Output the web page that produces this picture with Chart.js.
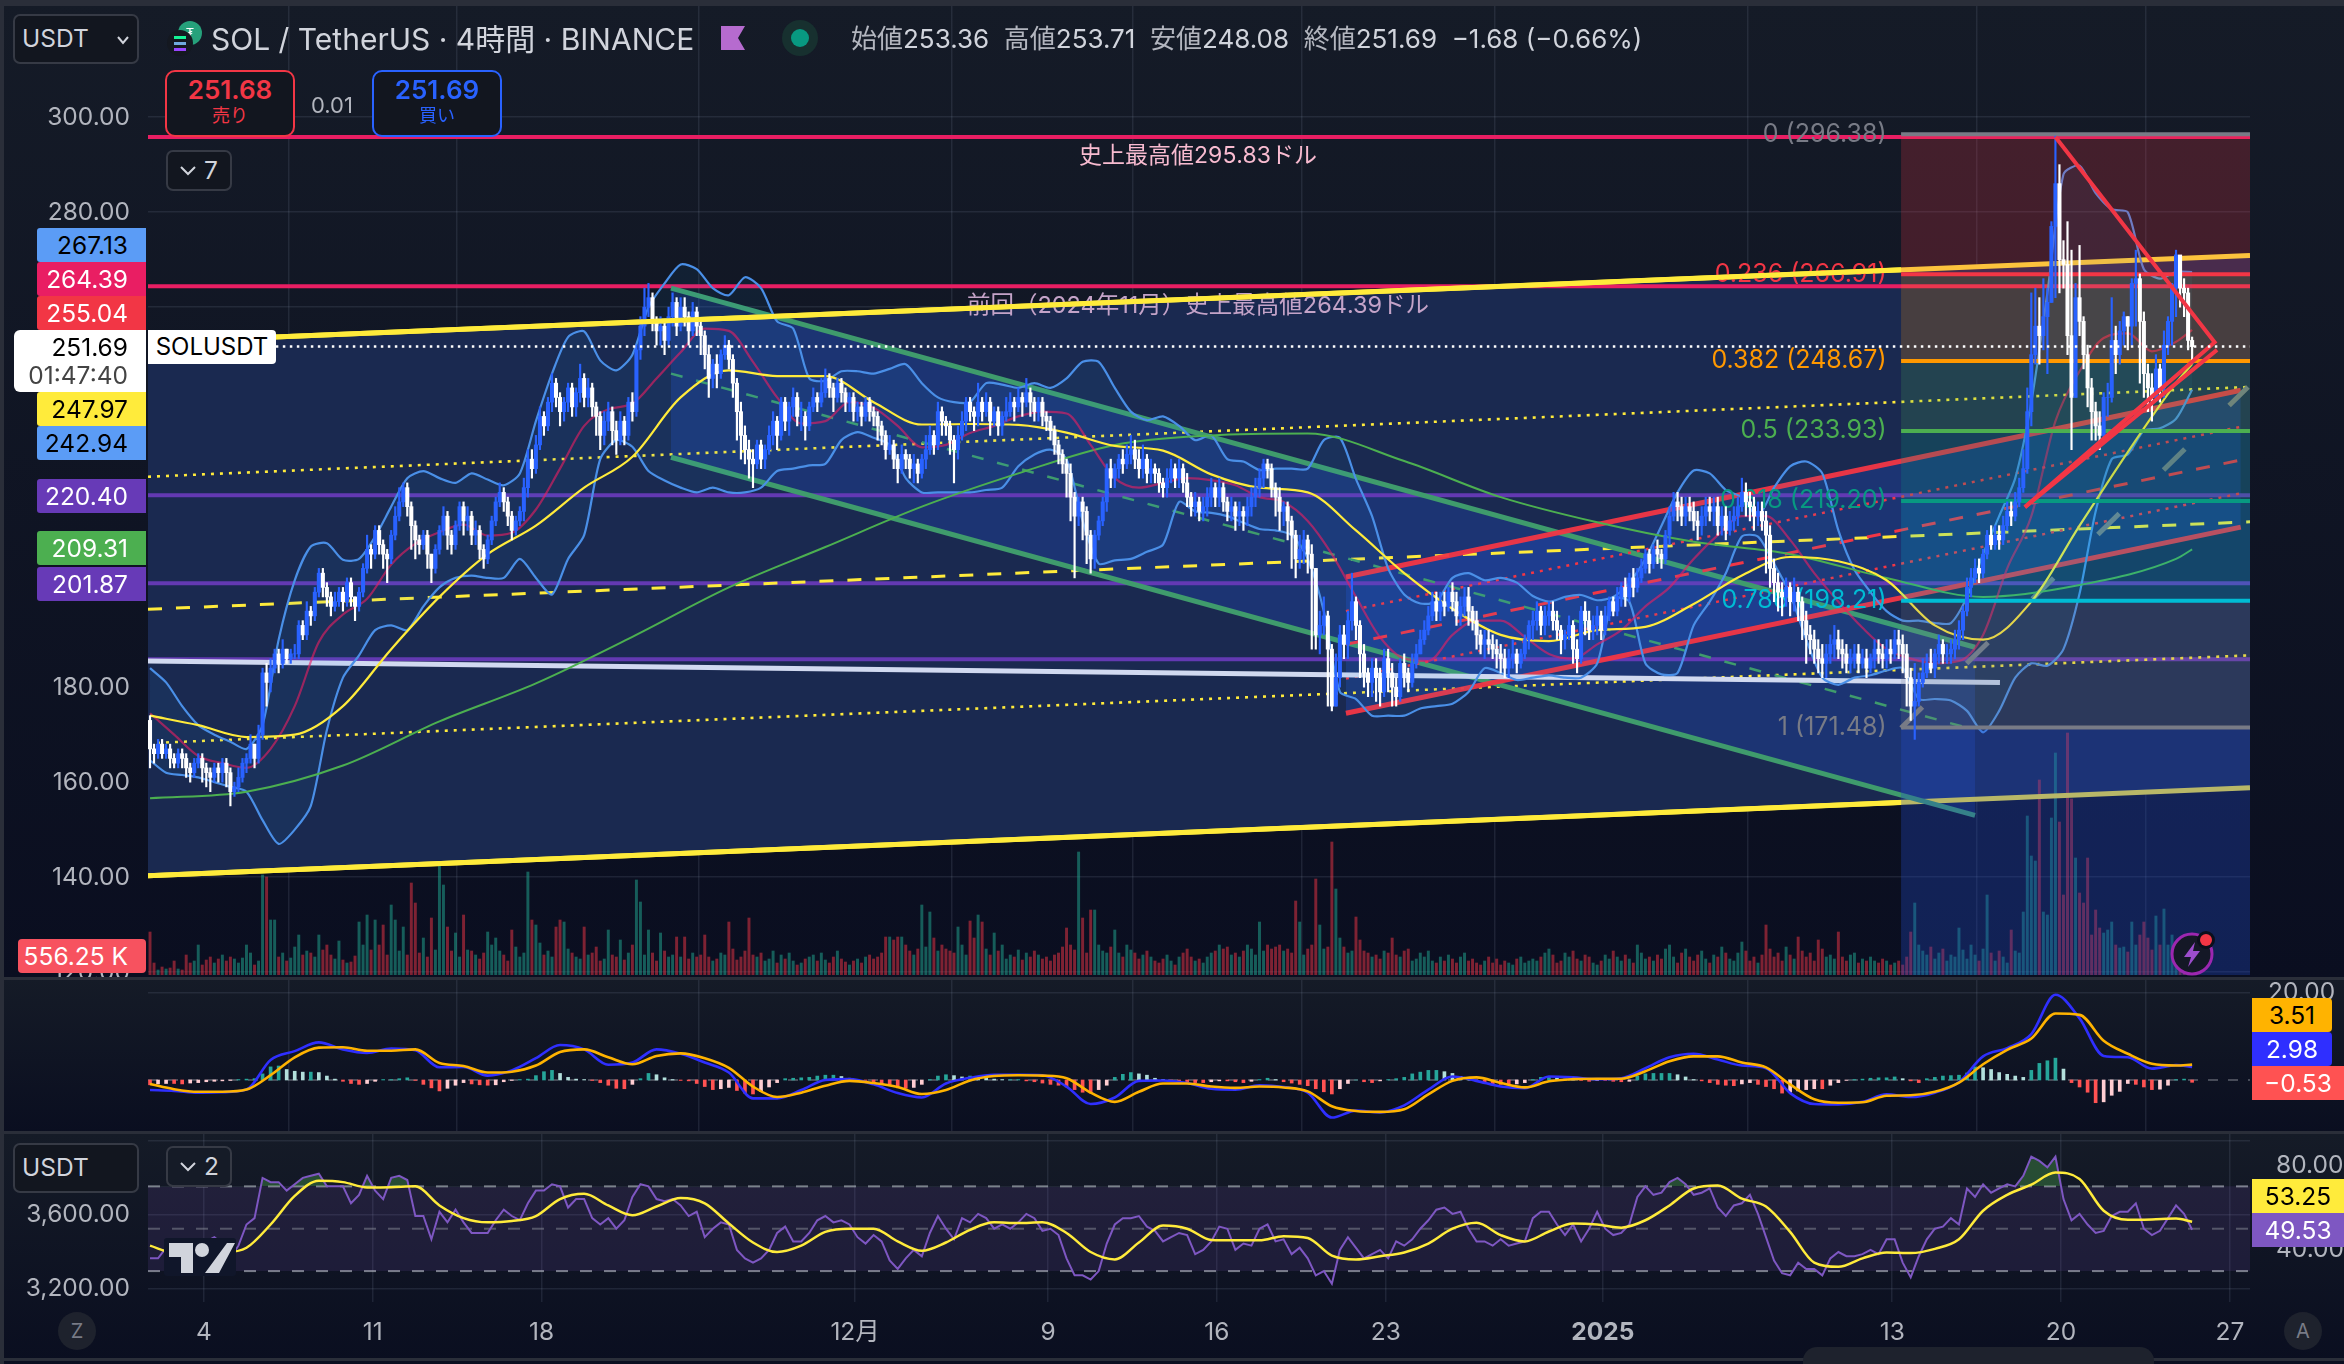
<!DOCTYPE html>
<html lang="ja">
<head>
<meta charset="utf-8">
<title>SOL / TetherUS</title>
<script src="https://cdn.jsdelivr.net/npm/chart.js@4"></script>
<style>
  html, body { margin: 0; background: #0b1020; }
  #page { position: relative; width: 2344px; height: 1364px; overflow: hidden; font-family: Inter, "Noto Sans CJK JP", sans-serif; color: #d1d4dc; }
  .pane { position: absolute; left: 0; width: 2344px; background: linear-gradient(#151b27, #0a0e20); }
  .bar { position: absolute; background: #2a2e39; }
  canvas { position: absolute; left: 0; }
  .ui { position: absolute; white-space: nowrap; }
  .tag { position: absolute; height: 34px; line-height: 34px; font-size: 24.5px; text-align: right; padding-right: 18px; box-sizing: border-box; border-radius: 3px 0 0 3px; }
  .rtag { position: absolute; left: 2252px; height: 34px; line-height: 34px; font-size: 24.5px; text-align: center; box-sizing: border-box; }
  .box { position: absolute; box-sizing: border-box; border: 2px solid #363a45; border-radius: 7px; background: #12161f; font-size: 24.5px; line-height: 44px; padding-left: 7px; }
  .round { position: absolute; width: 38px; height: 38px; line-height: 38px; border-radius: 50%; background: #1e222d; color: #787b86; text-align: center; font-size: 20px; }
  .deal { position: absolute; top: 70px; width: 130px; height: 67px; box-sizing: border-box; border: 2px solid; border-radius: 10px; background: #12161f; text-align: center; }
  .deal b { display: block; font-size: 26px; line-height: 30px; margin-top: 3px; font-weight: 600; }
  .deal span { display: block; font-size: 18px; line-height: 22px; }
  .lbl { color: #b2b5be; }
</style>
</head>
<body>
<div id="page">
  <div class="pane" style="top:0;height:978px"></div>
  <div class="pane" style="top:978px;height:155px"></div>
  <div class="pane" style="top:1133px;height:231px"></div>

  <canvas id="mainChart" width="2344" height="972" style="top:6px"></canvas>
  <canvas id="macdChart" width="2344" height="155" style="top:978px"></canvas>
  <canvas id="rsiChart" width="2344" height="231" style="top:1133px"></canvas>

  <div class="bar" style="left:0;top:0;width:2344px;height:6px"></div>
  <div class="bar" style="left:0;top:0;width:4px;height:1364px"></div>
  <div class="bar" style="left:0;top:977px;width:2344px;height:3px"></div>
  <div class="bar" style="left:0;top:1131px;width:2344px;height:3px"></div>
  <div class="bar" style="left:0;top:1358px;width:2344px;height:3px"></div>

  <div class="box" style="left:13px;top:14px;width:126px;height:50px">USDT
    <svg style="position:absolute;right:8px;top:19px" width="12" height="10"><polyline points="1,2 6,8 11,2" fill="none" stroke="#d1d4dc" stroke-width="2"/></svg>
  </div>
  <svg class="ui" style="left:166px;top:18px" width="40" height="40">
    <circle cx="24" cy="15" r="12" fill="#26a17b"/><text x="24" y="20" font-size="13" fill="#fff" text-anchor="middle">₮</text>
    <circle cx="14" cy="25" r="13" fill="#141820"/>
    <rect x="8" y="18" width="12" height="3" fill="#14f195"/><rect x="8" y="24" width="12" height="3" fill="#6fa8dc"/><rect x="8" y="30" width="12" height="3" fill="#9945ff"/>
  </svg>
  <div class="ui" style="left:211px;top:20px;font-size:30px;line-height:38px">SOL / TetherUS · 4時間 · BINANCE</div>
  <svg class="ui" style="left:721px;top:26px" width="24" height="24"><polygon points="0,0 24,0 17,12 24,24 0,24" fill="#b66bcf"/></svg>
  <svg class="ui" style="left:782px;top:20px" width="36" height="36"><circle cx="18" cy="18" r="18" fill="#17302f"/><circle cx="18" cy="18" r="9" fill="#089981"/></svg>
  <div class="ui" style="left:851px;top:22px;font-size:26px;line-height:34px"><span class="lbl">始値</span>253.36&nbsp; <span class="lbl">高値</span>253.71&nbsp; <span class="lbl">安値</span>248.08&nbsp; <span class="lbl">終値</span>251.69&nbsp; −1.68 (−0.66%)</div>

  <div class="deal" style="left:165px;border-color:#f23645;color:#f23645"><b>251.68</b><span>売り</span></div>
  <div class="ui" style="left:311px;top:92px;font-size:22px;line-height:26px;color:#b2b5be">0.01</div>
  <div class="deal" style="left:372px;border-color:#2962ff;color:#2962ff"><b>251.69</b><span>買い</span></div>

  <div class="box" style="left:166px;top:150px;width:66px;height:41px;line-height:37px;padding-left:36px">7
    <svg style="position:absolute;left:12px;top:13px" width="16" height="11"><polyline points="1,2 8,9 15,2" fill="none" stroke="#d1d4dc" stroke-width="2"/></svg>
  </div>

  <div class="tag" style="left:37px;top:228px;width:109px;background:#5b9cf6;color:#000">267.13</div>
  <div class="tag" style="left:37px;top:262px;width:109px;background:#e91e63;color:#fff">264.39</div>
  <div class="tag" style="left:37px;top:296px;width:109px;background:#f23645;color:#fff">255.04</div>
  <div class="tag" style="left:14px;top:330px;width:132px;height:62px;background:#fff;color:#000;line-height:28px;padding-top:3px;border-radius:6px 0 0 6px">251.69<br><span style="color:#444">01:47:40</span></div>
  <div class="tag" style="left:37px;top:392px;width:109px;background:#ffeb3b;color:#000">247.97</div>
  <div class="tag" style="left:37px;top:426px;width:109px;background:#5b9cf6;color:#000">242.94</div>
  <div class="tag" style="left:37px;top:479px;width:109px;background:#673ab7;color:#fff">220.40</div>
  <div class="tag" style="left:37px;top:531px;width:109px;background:#4caf50;color:#fff">209.31</div>
  <div class="tag" style="left:37px;top:567px;width:109px;background:#673ab7;color:#fff">201.87</div>
  <div class="tag" style="left:18px;top:939px;width:128px;background:#f7525f;color:#fff;border-radius:4px">556.25 K</div>
  <div class="ui" style="left:148px;top:330px;width:128px;height:34px;line-height:34px;background:#fff;color:#000;font-size:24px;text-align:center;border-radius:0 4px 4px 0">SOLUSDT</div>

  <svg class="ui" style="left:2170px;top:930px" width="48" height="48">
    <circle cx="22" cy="24" r="20" fill="#141826" stroke="#9c27b0" stroke-width="3"/>
    <polygon points="25,12 14,27 21,27 18,37 30,21 23,21" fill="#9c4dcc"/>
    <circle cx="36" cy="10" r="9" fill="#0b0f1c"/><circle cx="36" cy="10" r="6" fill="#f23645"/>
  </svg>

  <div class="rtag" style="top:998px;width:80px;background:#ffb300;color:#000;border-radius:0 4px 4px 0">3.51</div>
  <div class="rtag" style="top:1032px;width:80px;background:#2f2fff;color:#fff;border-radius:0 4px 4px 0">2.98</div>
  <div class="rtag" style="top:1066px;width:92px;background:#ff5252;color:#fff">−0.53</div>
  <div class="rtag" style="top:1179px;width:92px;background:#ffeb3b;color:#000">53.25</div>
  <div class="rtag" style="top:1213px;width:92px;background:#7e57c2;color:#fff">49.53</div>

  <div class="box" style="left:13px;top:1143px;width:126px;height:50px">USDT</div>
  <div class="box" style="left:166px;top:1146px;width:66px;height:41px;line-height:37px;padding-left:36px;background:#151b27">2
    <svg style="position:absolute;left:12px;top:13px" width="16" height="11"><polyline points="1,2 8,9 15,2" fill="none" stroke="#d1d4dc" stroke-width="2"/></svg>
  </div>
  <svg class="ui" style="left:164px;top:1238px" width="72" height="38">
    <rect width="72" height="38" rx="3" fill="#10162a"/>
    <path d="M5 5H29V35H17V19H5Z M63 5H71L55 35H41Z" fill="#d1d4dc"/><circle cx="38" cy="12" r="7" fill="#d1d4dc"/>
  </svg>
  <div class="round" style="left:58px;top:1312px">Z</div>
  <div class="round" style="left:2284px;top:1312px">A</div>
  <div class="ui" style="left:1803px;top:1347px;width:351px;height:17px;background:#1e222d;border-radius:14px 14px 0 0"></div>
</div>

<script>
// price pane: one candle every 4 hours, open is the previous close
const firstOpen = 173;
const closes = [
  167,166,168,166,167,165,164,166,165,163,162,164,165,163,162,161,163,162,164,162,
  158,159,161,164,165,168,165,170,183,181,184,187,185,188,186,187,187,193,191,196,
  195,200,204,201,199,197,198,200,198,202,199,197,200,205,209,208,213,210,208,207,
  212,216,219,222,218,214,211,210,212,208,205,209,213,216,212,210,214,218,215,216,
  212,213,209,207,211,215,219,221,219,216,213,215,217,222,228,226,231,237,235,240,
  244,241,238,240,243,239,242,245,241,243,239,237,233,236,238,234,232,236,233,240,
  238,251,256,260,262,257,255,256,253,258,261,256,260,258,255,259,256,254,250,245,
  248,246,250,252,249,244,238,233,230,228,227,231,228,230,233,236,233,240,236,239,
  241,237,237,235,239,241,240,242,245,243,241,244,242,240,241,238,239,237,240,238,
  237,235,233,230,231,228,226,229,228,226,227,225,228,230,233,231,238,236,235,232,
  230,233,236,240,238,237,240,238,240,236,238,235,237,238,240,239,241,240,242,240,
  238,240,237,236,234,231,229,227,225,220,216,219,217,212,207,212,215,219,226,224,
  226,228,227,229,230,228,226,228,225,226,225,223,222,224,226,224,226,223,220,218,
  219,217,218,220,222,220,222,219,217,218,216,217,216,218,220,222,224,227,226,222,
  220,217,218,215,212,207,209,211,208,205,191,193,195,188,176,182,191,189,194,198,
  193,187,183,181,184,182,179,186,183,180,178,185,183,181,185,187,190,192,195,198,
  196,198,197,200,198,195,197,199,196,194,191,189,190,189,188,187,186,184,186,187,
  185,187,190,193,194,196,193,195,196,194,192,190,191,193,188,186,196,194,192,193,
  195,192,195,198,196,199,201,199,203,201,203,205,208,206,209,208,207,212,216,219,
  218,216,218,217,215,214,216,218,217,218,214,216,213,215,216,218,221,219,218,216,
  217,215,212,205,202,200,199,201,198,200,198,194,191,190,188,186,185,187,189,190,
  188,187,185,186,187,185,186,184,186,188,187,186,188,187,190,189,187,182,176,177,
  181,183,185,184,187,189,187,187,188,190,192,196,201,203,205,204,208,212,210,212,
  211,214,217,216,219,222,226,238,250,256,254,258,261,277,286,270,269,254,241,262,
  257,250,243,238,235,233,241,241,253,250,255,258,256,265,266,257,246,243,241,247,
  243,252,257,264,271,264,263,253,251.69
];
const highs = [
  174,168,169,169,168,168,166,167,167,166,164,165,166,166,164,163,164,164,165,165,
  163,160,163,165,166,170,168,172,184,185,186,188,188,190,188,188,189,194,194,198,
  197,201,205,205,202,200,200,201,201,203,203,199,201,206,212,210,214,214,211,209,
  213,218,222,223,223,219,215,212,213,213,208,210,214,218,217,213,215,219,219,218,
  217,215,214,210,212,216,220,223,222,220,217,216,218,224,230,230,233,239,238,241,
  246,245,242,241,244,244,243,248,246,245,244,240,238,238,240,239,236,238,237,241,
  242,252,258,264,265,263,258,258,257,260,263,262,262,262,259,261,260,257,255,252,
  249,250,251,254,253,250,245,240,235,232,230,232,232,231,235,238,237,241,241,240,
  243,242,240,238,240,243,242,245,247,246,244,245,245,243,242,242,240,240,241,241,
  239,238,236,234,233,232,229,231,230,229,229,228,229,233,235,234,240,239,237,236,
  233,235,238,241,241,239,244,241,242,241,239,239,238,241,242,241,243,242,245,243,
  241,241,241,238,237,235,232,230,228,227,221,220,220,218,213,213,216,220,227,228,
  227,229,230,231,233,232,230,231,229,228,227,226,224,226,228,227,228,227,225,221,
  221,220,220,222,224,223,224,223,220,220,219,219,218,220,222,224,226,228,228,227,
  223,222,219,219,216,213,212,213,212,210,205,196,199,196,189,187,193,193,196,204,
  199,194,189,184,186,186,184,188,188,185,182,186,187,184,187,189,192,194,197,200,
  200,200,200,201,202,200,199,201,201,197,196,192,192,192,191,190,189,188,188,190,
  188,188,191,194,196,198,197,197,198,198,196,193,192,195,194,190,197,198,196,195,
  197,196,197,199,199,201,202,203,204,205,205,207,209,209,210,211,209,213,218,221,
  221,220,220,220,219,217,218,220,220,220,220,218,218,217,218,220,224,223,221,220,
  219,219,217,214,207,204,202,203,202,203,201,199,196,193,192,190,189,189,191,193,
  192,190,189,188,189,189,188,188,187,190,190,189,190,190,192,192,191,189,184,185,
  183,186,187,188,188,191,190,189,190,192,194,197,203,205,207,207,209,213,214,214,
  214,216,219,219,221,224,230,243,263,264,262,266,264,278,296,290,274,278,272,265,
  273,258,252,245,240,238,242,244,262,256,257,259,258,266,272,267,259,248,246,250,
  248,255,258,265,272,270,266,264,253.71
];
const lows = [
  163,164,165,165,165,163,163,163,163,161,160,161,163,160,159,158,160,160,160,159,
  155,157,158,160,162,164,163,164,169,176,179,183,183,184,185,185,186,186,190,190,
  193,194,199,199,197,195,196,197,196,197,197,194,196,199,204,205,207,208,205,202,
  206,211,215,218,216,209,207,208,209,205,202,204,208,212,209,208,209,213,212,213,
  210,210,207,205,206,210,214,218,217,214,211,212,214,215,220,224,225,230,233,234,
  238,239,235,236,238,237,237,240,239,239,237,233,230,231,234,231,229,231,231,232,
  236,237,249,254,258,255,252,252,250,252,256,254,255,256,252,254,254,250,247,241,
  243,243,245,249,247,241,232,228,227,224,222,226,226,226,229,231,230,232,234,233,
  237,235,234,232,234,238,238,239,241,241,238,240,240,238,238,236,236,235,236,236,
  235,232,231,228,229,226,223,225,226,224,223,223,224,226,229,229,230,233,233,229,
  223,228,232,234,236,234,235,236,237,233,235,233,233,236,237,236,238,237,239,237,
  236,236,235,234,232,229,227,225,220,215,203,214,211,206,204,205,211,214,217,222,
  222,224,225,226,227,226,224,224,223,223,223,221,220,220,223,222,222,221,218,216,
  216,215,215,216,218,218,218,217,215,215,213,214,213,214,216,218,220,222,224,220,
  216,213,214,211,205,203,205,206,204,188,188,187,191,176,175,176,180,186,186,192,
  190,182,180,178,178,177,176,178,179,176,176,177,180,179,180,184,187,189,191,194,
  194,194,195,196,196,193,193,195,193,192,188,187,186,187,186,184,183,182,182,184,
  183,184,186,188,190,192,191,191,193,192,190,187,188,190,185,183,185,191,190,190,
  191,190,191,194,195,195,197,197,198,199,200,202,204,204,205,206,205,206,210,215,
  215,214,214,215,213,211,212,214,215,214,212,212,211,212,213,214,217,216,215,213,
  214,213,204,201,198,196,195,197,195,196,194,190,185,187,185,183,182,182,185,186,
  186,184,183,183,184,183,184,182,183,184,185,184,184,185,186,186,183,176,173,169,
  176,180,182,183,182,185,185,185,185,186,188,190,195,199,202,202,203,207,209,209,
  209,210,213,214,215,218,221,225,235,248,248,251,246,261,262,263,264,250,230,241,
  254,247,239,232,232,230,232,237,240,246,248,252,251,252,256,244,241,238,236,241,
  240,241,250,252,258,260,258,251,248.08
];
// volume per candle, in units of 50K
const volumes = [
  43,12,5,8,6,7,14,6,5,20,12,14,30,10,15,18,12,16,20,14,
  18,16,12,17,30,22,10,14,100,98,55,55,18,22,14,17,28,40,20,24,
  22,18,40,25,30,20,16,34,15,12,13,19,53,30,60,25,55,30,50,20,
  70,55,24,48,20,92,72,22,37,18,57,25,110,90,48,24,42,18,60,25,
  24,20,16,22,43,30,37,24,20,14,45,28,18,22,103,55,50,32,20,24,
  18,48,55,53,26,22,18,16,48,20,22,28,14,16,45,20,18,35,15,22,
  30,95,73,20,45,22,14,42,24,18,20,38,18,38,16,22,18,20,40,18,
  14,16,22,20,53,26,15,18,24,57,20,18,22,14,16,24,12,20,16,22,
  14,10,12,16,18,20,14,22,15,12,18,24,16,13,10,14,16,12,18,20,
  16,18,22,38,38,35,38,38,30,24,20,26,70,28,63,37,24,30,26,24,
  22,48,30,20,54,37,60,53,26,20,42,24,30,16,20,18,25,15,22,18,
  24,20,16,18,14,20,22,28,47,30,25,123,57,22,65,65,30,24,22,28,
  45,22,18,30,25,22,16,20,24,18,14,12,16,20,14,10,18,22,26,18,
  14,16,12,18,22,24,30,26,28,20,22,18,24,30,26,20,53,24,30,26,
  28,30,24,26,22,74,53,20,26,30,96,50,26,28,133,86,37,28,22,24,
  58,35,24,22,18,20,16,24,22,37,20,18,24,26,14,16,22,18,24,14,
  12,18,14,20,16,12,18,22,14,16,12,10,14,18,12,16,10,14,12,10,
  16,18,12,14,16,14,18,22,26,20,12,14,22,18,24,16,14,20,18,12,
  10,14,20,16,24,18,14,20,16,12,30,22,16,18,14,20,16,26,30,18,
  12,22,26,18,14,20,24,16,12,20,18,28,22,16,14,22,33,24,14,18,
  12,20,50,26,18,22,14,28,20,16,38,24,18,22,14,35,26,18,20,16,
  43,18,14,20,22,12,16,14,18,14,12,16,14,10,12,14,10,18,43,72,
  30,24,20,28,16,22,26,14,20,18,47,25,16,30,20,14,26,80,22,14,
  24,18,12,45,24,22,63,159,119,114,195,63,60,157,222,153,80,242,176,117,
  82,72,117,40,65,47,42,45,53,30,27,28,23,53,30,40,53,37,25,59,
  30,66,30,40,30,20,12,8,11
];

// indicators, read every few candles (step is the spacing in candles)
const bbStep = 4;
const bbUpper = [
  184,181,176,172,170,168.5,167,172,190,202.5,209.6,210.3,206.8,207,211.7,218,224,225.5,224,223,225,223.7,222.5,225,236,246,253.7,254.9,248.8,246.7,250,260,265,269,268,264,262.5,266.3,264,257,255.5,
  245,244.5,246.5,246.5,246,247,248,244,241,240,240,244,243.7,243,244,243,245,248.5,248.5,243,238,236.2,237,235,232,233,228,227.5,225.7,226,226,226,232,232.5,223.8,216,205,199.5,197.6,198,203,204,202.5,203,202,199.2,198,199,199.4,198.3,
  199,202,207,214,221,225.6,225,221.5,220,216,222,226.5,227.5,225,213,204.7,200,196,194,194,193.5,193.5,199,208,216,224,240,263,288,289.8,284,280.6,280,268,266,267.4,267.4
];
const bbLower = [
  164.6,162,161.5,161,160,159,158,152,147,150,155,171,182,186.7,192,193,192,197,201,203,203.5,203,203,207,203,199.5,207,212,228,232,230.6,225.5,223.5,
  222,221,222,221,221,222,225.5,226,
  226.7,227,232,233.7,232.5,231,224,221,221,221,221,221.5,222,226.5,229,230,228,215,206,206.7,207,208.5,210,219,217,216.7,216,214.6,213.3,213,212,207,196,179,177.5,174,174,174,175.5,176,176.5,179,184,183,181.5,182,182.5,182,182,185,
  198.6,198,185,182.7,183,193,198,204,211.7,211.7,206,199.6,190,182,180.5,182,182.5,183.5,184,177.5,177.5,177.2,175,170.5,175,182,185,184.5,188,199.7,217,228,229,234,234.5,236.5,242.6
];
const ma20Step = 6;
const ma20 = [
  174.5,170,165.5,164,163,167,176,189.5,195.3,198.6,205.8,210.2,212.6,214.2,211.9,212.5,217.4,226,235,238.5,239.7,245,250.5,255.5,255,248.5,241,
  235.5,236,240,238.8,235,230.5,231,233.5,235,237,238,237.6,231,224,222,223,224,223.6,222.5,220,219,215,208,199,190.5,186,185.5,191,194,194,190.6,187,186,189,
  192,197,201,207,212,216,216,211,204,198,192.5,188,186,185,185.5,191,205,216,236,246.5,253.5,254.5,250.7,252.7,255.2
];
const ma50Step = 12;
const ma50 = [174,172,169.5,170,176,188,199,208,214,222,228.5,241,246.7,245.5,245.5,240,235.3,235.4,235.2,233.6,230.8,229.8,224.8,222,221,213,204,196.5,191,189.7,192,192.7,197.5,203.5,207.4,206.5,202.5,193,190,198,214,229.5,244,248];
const ma200Step = 24;
const ma200 = [156.6,158,163.5,172.8,180.8,190.6,201,209.5,218,225,231,233,233.4,227.6,220,214.7,210.6,208,203,199,201.5,207,209];

const macdStep = 6;
const macdLine = [
  -2.3,-2.5,-2.9,-2.8,-2.2,4.6,6.6,8.6,7,6.2,7.2,6.8,2.9,3,1,2.2,5,8,7,3.5,4,7,6,4,1.7,-4.2,-4.2,
  -2.3,0,.2,-1,-3,-4,-.8,.5,1.2,1.2,1.1,-1.5,-5.5,-4,-.2,-.1,-.7,-2,-2.2,-1.2,-1.6,-2.9,-8.6,-7,-7.4,-5.8,-2.2,.8,-.2,-1.5,-1.9,.8,.6,.2,
  .4,2.7,5.2,6,4.7,3.3,2.7,-3,-5.5,-5.6,-5,-3.3,-3.9,-2.9,-.5,5.4,7.3,10.5,19.5,14.1,5.5,5.2,2.6,3.4,2.98
];
const macdSignal = [
  -.9,-2.1,-2.7,-2.7,-2.2,1.1,5.2,7.4,7.5,6.7,6.7,7,3.9,3.2,1.7,1.9,3.3,6.4,7,5.2,3.6,5.5,6.1,5,2.8,-1.5,-3.9,
  -2.9,-1.3,-.2,-.7,-1.6,-3.2,-2.3,-.1,.9,1.1,1,.4,-2.9,-5,-2.7,-.8,-.8,-1.5,-1.8,-1.5,-1.7,-2.6,-6,-7.1,-7.3,-6.7,-3.3,-.2,.6,-.7,-1.7,-.3,.2,.3,
  .3,2,4.3,5.4,5.4,4,2.9,-1,-4.4,-5.2,-5.1,-3.6,-3.5,-2.7,-.6,3.6,6.9,9.5,15.2,14.9,9,6,3.7,3.3,3.51
];
const histStep = 2;
const macdHist = [
  -1.1,-.9,-.8,-.8,-.9,-.7,-.6,-.4,-.3,-.2,-.1,.1,.2,.3,1.4,3,3.2,2.4,2,1.8,
  1.8,1.7,.9,.2,-.3,-.8,-1,-.8,-.3,.1,.1,.3,.5,-.1,-1,-1.8,-2.5,-1.9,-1.2,-.6,
  -.9,-1.1,-1.2,-1.1,-.4,-.1,.1,.2,1,1.9,2.2,1.5,.6,.2,.1,-.1,-.6,-1.2,-1.9,-2,
  -1,.3,1.5,1.2,.5,.1,-.1,-.2,-.8,-1.5,-2.2,-2,-1.7,-2.4,-3,-3.2,-2.6,-1.6,-.6,.3,
  .4,.5,.6,.9,1.1,1.1,.8,.4,.1,-.1,-.4,-.8,-1.2,-1.8,-1.9,-1.7,-1,.1,.9,1.2,
  1,.7,.9,.6,.4,.2,.1,.1,.1,-.2,-.4,-.7,-1,-1.2,-1.6,-2.2,-2.8,-3,-2.2,-1.2,
  .6,1.3,1.7,1.4,1.1,.4,.1,-.1,-.2,-.4,-.6,-.6,-.4,-.2,-.2,-.4,-.6,-.3,.1,.4,
  .1,-.4,-.7,-1,-1.3,-2,-2.7,-3.2,-2,-.8,0,-.4,-.6,-.2,.1,.3,.6,1.4,1.8,2.2,
  2.2,1.9,1.5,.8,.4,-.4,-.8,-.9,-1,-1,-.9,-.6,.1,.6,.8,.5,.2,.1,-.1,-.3,
  -.1,-.1,-.3,-.4,-.3,.9,1.4,1.5,1.5,1.5,1.2,.7,.1,-.2,-.6,-1,-1.2,-1.3,-.9,-.6,
  -1,-1.5,-2,-3,-2.8,-2.5,-2.2,-2,-2,-1.2,-.6,-.1,.1,.2,.4,.5,.5,.7,.3,-.2,
  -.6,.3,.6,.9,1,1.1,1.6,3,2.8,2.4,1.7,1.3,.9,.6,2.2,3.8,4.4,5,2.5,-.6,
  -1.6,-2.8,-5.2,-5,-3.5,-2.6,-.8,-1,-1.6,-2.2,-2.1,-1.2,.1,.2,-.53
];

const rsiStep = 2;
const rsiLine = [
  36,36,41,39,42,43,42,44,46,43,36,42,52,55,74,72,72,68,71,74,
  75,76,70,70,70,62,66,75,68,64,74,75,73,56,56,45,58,53,59,53,
  48,48,48,54,59,56,54,62,68,68,71,70,60,64,64,55,52,55,50,54,
  65,71,70,64,63,64,61,56,58,46,50,53,52,40,36,34,36,40,48,51,
  44,44,48,54,56,53,54,52,46,43,47,44,35,31,36,40,37,48,56,50,
  45,55,53,57,55,50,52,50,53,57,55,49,50,47,36,28,28,26,30,43,
  52,55,55,56,51,49,44,46,48,47,38,40,44,51,50,40,43,42,50,52,
  44,45,38,41,36,28,30,24,40,46,41,36,38,40,36,44,42,45,50,54,
  59,60,57,58,50,44,44,42,45,42,43,44,55,58,58,52,47,52,44,50,
  58,50,47,48,52,65,70,66,67,72,74,71,66,67,69,60,56,61,62,66,
  57,46,35,29,28,34,31,31,28,36,39,37,37,38,40,38,45,45,34,27,
  37,45,50,51,55,52,69,65,71,67,69,71,70,75,84,82,79,84,64,54,
  57,52,48,49,56,58,58,62,50,47,49,55,61,57,49.53
];
const rsiMaStep = 6;
const rsiMa = [
  42,38.6,38.5,38.7,41,52,65.5,72.6,72,69.5,69.6,70,61,55,53,53.6,56,64,66.5,61,56.4,60.5,64.5,62,52.5,43.5,39,
  42,48.5,50,50,44,39.6,43.5,49.5,53,52.7,53,48,39,35.5,43.5,51.5,50,44.7,44.5,44.5,46.5,45.6,37.3,35.5,37,38.8,43,50,52.8,47,44,48.7,52.5,52,
  50.5,54,61,69,70.4,64.2,60.5,48.5,34,32,36,38.8,38.5,40.5,45,58.5,66,70.8,76.5,73.5,58.5,54.2,54.4,54.8,53.25
];

// levels and drawings, in price and candle number
const athLevels = [295.83, 264.39];
const purpleLevels = [220.40, 201.87, 185.9];
const lastPrice = 251.69;
const fibLabels = ['0 (296.38)', '0.236 (266.91)', '0.382 (248.67)', '0.5 (233.93)', '0.618 (219.20)', '0.786 (198.21)', '1 (171.48)'];
const fibLevels = [296.38, 266.91, 248.67, 233.93, 219.20, 198.21, 171.48];
const fibColors = ['#787b86', '#f23645', '#ff9800', '#4caf50', '#089981', '#00bcd4', '#787b86'];
const fibFills = ['rgba(242,54,69,.22)', 'rgba(255,152,0,.2)', 'rgba(76,175,80,.2)', 'rgba(8,153,129,.22)', 'rgba(0,188,212,.2)', 'rgba(120,123,134,.2)', 'rgba(33,74,200,.32)'];

const yellowX = [-0.5, 522.4];
const yellowTop = [252.6, 270.9];
const yellowMid = [196.4, 214.8];
const yellowBottom = [140.3, 158.8];
const yellowDotHigh = [224.3, 243.2];
const yellowDotLow = [168.2, 186.7];
const fibStart = 435.6;
// where the two yellow lines enter the fib box
const yellowFrontX = [-0.5, fibStart];
const yellowTopFront = [252.6, 267.86];
const yellowBottomFront = [140.3, 155.73];
const greenX = [129.6, 454];
const greenTop = [264, 188.4];
const greenMid = [246, 171];
const greenBottom = [228.4, 153];
const redX = [297.5, 520.1];
const redTop = [203.2, 242.5];
const redDotHigh = [196, 234.8];
const redMid = [189, 227.8];
const redDotLow = [181.8, 220.8];
const redBottom = [174.5, 213.7];
const whiteX = [-0.5, 460.2];
const whiteLine = [185.5, 181];
const triangleX = [474, 513.6, 466.4];
const triangleY = [295.8, 252.6, 217.9];
const fibTrendX = [435.6, 521.9];
const fibTrendY = [171.4, 243.2];

const timeTicks = [13.4, 55.4, 97.4, 175.4, 223.4, 265.4, 307.4, 361.4, 433.4, 475.4, 517.4];
const timeLabels = ['4', '11', '18', '12月', '9', '16', '23', '2025', '13', '20', '27'];
const priceTicks = [120, 140, 160, 180, 200, 220, 240, 260, 280, 300];
const usdtTicks = [3200, 3600, 4000];
const rsiTicks = [40, 80];
const macdTicks = [20];

const xMin = -0.5, xMax = 522.4, lastBar = 508;
const font = 'Inter, "Noto Sans CJK JP", sans-serif';
const gridColor = 'rgba(125,135,160,.17)';
const tickFont = { size: 24.5, family: font };

const sampled = (values, step) => values.map((y, k) => ({ x: Math.min(k * step, lastBar), y }));
const pair = (xs, ys) => xs.map((x, k) => ({ x, y: ys[k] }));
const span = v => [{ x: xMin, y: v }, { x: xMax, y: v }];

function line(data, color, width, extra) {
  return Object.assign({ type: 'line', data, borderColor: color, borderWidth: width, pointRadius: 0, fill: false }, extra);
}
function fillBetween(a, b, color) {
  return [line(a, 'transparent', 0, { fill: '+1', backgroundColor: color }), line(b, 'transparent', 0)];
}

const xAxis = {
  type: 'linear', min: xMin, max: xMax, offset: false,
  border: { display: false },
  grid: { color: gridColor, lineWidth: 1.5, drawTicks: false },
  afterBuildTicks: axis => { axis.ticks = timeTicks.map(value => ({ value })); },
  ticks: { display: false, autoSkip: false, maxRotation: 0 }
};
const fixedTicks = values => axis => { axis.ticks = values.map(value => ({ value })); };
// the tick padding would otherwise also push the plot in from top and bottom
const fixedWidth = width => s => { s.width = width; s.paddingTop = 0; s.paddingBottom = 0; };

function baseOptions(scales, layout) {
  return {
    responsive: false, animation: false, devicePixelRatio: 1,
    layout: { padding: layout },
    plugins: { legend: { display: false }, tooltip: { enabled: false } },
    scales
  };
}

// main pane, datasets are listed back to front
const bodies = closes.map((c, i) => ({ x: i, y: [i ? closes[i - 1] : firstOpen, c] }));
const isUp = bodies.map(b => b.y[1] >= b.y[0]);

const mainData = [
  ...fillBetween(pair(yellowX, yellowTop), pair(yellowX, yellowBottom), '#1a2950'),
  ...fillBetween(pair(greenX, greenTop), pair(greenX, greenBottom), 'rgba(41,98,255,.2)'),
  ...fillBetween(pair(redX, redTop), pair(redX, redBottom), 'rgba(41,98,255,.2)')
];
athLevels.forEach(v => mainData.push(line(span(v), '#e91e63', 4)));
purpleLevels.forEach(v => mainData.push(line(span(v), 'rgba(103,58,183,.95)', 4)));
mainData.push(
  { type: 'bar', yAxisID: 'y2', grouped: false, barThickness: 2.3, data: volumes.map((v, i) => ({ x: i, y: [0, v] })), backgroundColor: isUp.map(u => u ? 'rgba(34,171,148,.5)' : 'rgba(242,54,69,.5)') },
  line(pair(yellowX, yellowTop), '#ffeb3b', 5),
  line(pair(yellowX, yellowBottom), '#ffeb3b', 5),
  line(pair(yellowX, yellowDotHigh), '#ffeb3b', 2.6, { borderDash: [3, 6] }),
  line(pair(yellowX, yellowDotLow), '#ffeb3b', 2.6, { borderDash: [3, 6] }),
  line(pair(yellowX, yellowMid), '#ffeb3b', 3, { borderDash: [14, 14] }),
  line(pair(greenX, greenMid), '#3f9b6c', 2.5, { borderDash: [12, 14] }),
  line(pair(greenX, greenTop), '#3f9b6c', 5),
  line(pair(greenX, greenBottom), '#3f9b6c', 5),
  line(pair(redX, redDotHigh), '#f23645', 2.5, { borderDash: [3, 6] }),
  line(pair(redX, redDotLow), '#f23645', 2.5, { borderDash: [3, 6] }),
  line(pair(redX, redMid), '#f23645', 3, { borderDash: [14, 14] }),
  line(pair(redX, redTop), 'rgba(242,54,69,.95)', 5),
  line(pair(redX, redBottom), 'rgba(242,54,69,.95)', 5),
  line(pair(whiteX, whiteLine), '#d1d9f0', 5),
  line(pair(fibTrendX, fibTrendY), '#787b86', 5, { borderDash: [30, 62] }),
  line(sampled(bbUpper, bbStep), '#4a8fe7', 2.2, { tension: 0.25, fill: '+1', backgroundColor: 'rgba(33,150,243,.07)' }),
  line(sampled(bbLower, bbStep), '#4a8fe7', 2.2, { tension: 0.25 }),
  line(sampled(ma200, ma200Step), '#4caf50', 2, { cubicInterpolationMode: 'monotone' }),
  line(sampled(ma20, ma20Step), 'rgba(233,30,99,.62)', 2.2, { cubicInterpolationMode: 'monotone' }),
  line(sampled(ma50, ma50Step), '#ffeb3b', 2.2, { cubicInterpolationMode: 'monotone' })
);
fibLevels.forEach((level, k) => {
  const next = k < fibLevels.length - 1 ? fibLevels[k + 1] : 119.4;
  mainData.push(line([{ x: fibStart, y: level }, { x: xMax, y: level }], 'transparent', 0, { fill: { value: next }, backgroundColor: fibFills[k] }));
});
fibLevels.forEach((level, k) => mainData.push(line([{ x: fibStart, y: level }, { x: xMax, y: level }], fibColors[k], 4, { label: k === fibLevels.length - 1 ? 'fibLast' : '' })));
mainData.push(
  { type: 'bar', grouped: false, barThickness: 1.5, data: closes.map((c, i) => ({ x: i, y: [lows[i], highs[i]] })), backgroundColor: isUp.map(u => u ? '#2962ff' : '#ffffff') },
  { type: 'bar', grouped: false, barThickness: 3.4, data: bodies, backgroundColor: isUp.map(u => u ? '#2962ff' : '#ffffff') },
  line(pair(yellowFrontX, yellowTopFront), '#ffeb3b', 5),
  line(pair(yellowFrontX, yellowBottomFront), '#ffeb3b', 5),
  line(pair(triangleX, triangleY), '#f23645', 4),
  line([{ x: triangleX[2], y: triangleY[2] }, { x: 514.2, y: 251 }], '#f23645', 4),
  line([{ x: 31.3, y: lastPrice }, { x: xMax, y: lastPrice }], '#ffffff', 2.5, { borderDash: [2.5, 4.5] })
);
mainData.forEach((d, i, all) => { d.order = all.length - i; });

// text that sits under the drawings on the price pane
const paneText = {
  id: 'paneText',
  afterDatasetDraw(chart, args) {
    if (chart.data.datasets[args.index].label !== 'fibLast') return;
    const { ctx, scales: { x, y } } = chart;
    ctx.save();
    ctx.textBaseline = 'middle';
    ctx.font = '25px ' + font;
    ctx.textAlign = 'right';
    fibLabels.forEach((text, k) => {
      ctx.fillStyle = fibColors[k];
      ctx.fillText(text, x.getPixelForValue(432), y.getPixelForValue(fibLevels[k]));
    });
    ctx.textAlign = 'center';
    ctx.font = '23px ' + font;
    ctx.fillStyle = '#f8bbd0';
    ctx.fillText('史上最高値295.83ドル', x.getPixelForValue(260.7), y.getPixelForValue(291.7));
    ctx.font = '23.5px ' + font;
    ctx.fillStyle = '#c4a3c8';
    ctx.fillText('前回（2024年11月）史上最高値264.39ドル', x.getPixelForValue(260.7), y.getPixelForValue(260.2));
    ctx.restore();
  }
};

new Chart(document.getElementById('mainChart'), {
  type: 'bar',
  data: { datasets: mainData },
  plugins: [paneText],
  options: baseOptions({
    x: xAxis,
    y: {
      position: 'left', min: 119.4, max: 323.4,
      border: { display: false },
      grid: { color: gridColor, lineWidth: 1.5, drawTicks: false },
      afterBuildTicks: fixedTicks(priceTicks),
      afterFit: fixedWidth(148),
      ticks: { color: '#b2b5be', font: tickFont, padding: 18, callback: v => v.toFixed(2) }
    },
    y2: { display: false, min: 0, max: 969 }
  }, { right: 94, bottom: 3 })
});

// macd pane
const histColors = macdHist.map((v, k) => {
  const prev = k ? macdHist[k - 1] : 0;
  if (v >= 0) return v >= prev ? '#26a69a' : '#b2dfdb';
  return v <= prev ? '#ff5252' : '#ffcdd2';
});
const macdData = [
  line(span(0), 'rgba(120,123,134,.55)', 2, { borderDash: [10, 10] }),
  { type: 'bar', grouped: false, barThickness: 3, data: sampled(macdHist, histStep).map(p => ({ x: p.x, y: [0, p.y] })), backgroundColor: histColors },
  line(sampled(macdLine, macdStep), '#2f2fff', 2.6, { cubicInterpolationMode: 'monotone' }),
  line(sampled(macdSignal, macdStep), '#ffb300', 2.6, { cubicInterpolationMode: 'monotone' })
];
macdData.forEach((d, i, all) => { d.order = all.length - i; });

new Chart(document.getElementById('macdChart'), {
  type: 'bar',
  data: { datasets: macdData },
  options: baseOptions({
    x: xAxis,
    y: {
      position: 'right', min: -12.13, max: 23.34,
      border: { display: false },
      grid: { color: gridColor, lineWidth: 1.5, drawTicks: false },
      afterBuildTicks: fixedTicks(macdTicks),
      afterFit: fixedWidth(94),
      ticks: { color: '#b2b5be', font: tickFont, padding: 18, callback: v => v.toFixed(2) }
    }
  }, { left: 148 })
});

// rsi pane, carries the time axis
const rsiData = [
  ...fillBetween(span(70), span(30), 'rgba(126,87,194,.14)'),
  line(span(70), 'rgba(190,195,205,.6)', 2, { borderDash: [12, 12] }),
  line(span(50), 'rgba(150,155,165,.45)', 2, { borderDash: [12, 12] }),
  line(span(30), 'rgba(190,195,205,.6)', 2, { borderDash: [12, 12] }),
  line(sampled(rsiLine, rsiStep), '#7e57c2', 2, { fill: { target: { value: 70 }, above: 'rgba(76,175,80,.35)', below: 'transparent' } }),
  line(sampled(rsiMa, rsiMaStep), '#ffeb3b', 2.5, { cubicInterpolationMode: 'monotone' })
];
rsiData.forEach((d, i, all) => { d.order = all.length - i; d.yAxisID = 'y'; });

new Chart(document.getElementById('rsiChart'), {
  type: 'line',
  data: { datasets: rsiData },
  options: baseOptions({
    x: Object.assign({}, xAxis, {
      afterFit: s => { s.height = 62; },
      ticks: {
        display: true, autoSkip: false, maxRotation: 0, padding: 16, color: '#b2b5be',
        font: ctx => ({ size: 24.5, family: font, weight: ctx.tick && timeLabels[timeTicks.indexOf(ctx.tick.value)] === '2025' ? 'bold' : 'normal' }),
        callback: v => timeLabels[timeTicks.indexOf(v)]
      }
    }),
    yUsdt: {
      position: 'left', min: 3130, max: 4043,
      border: { display: false },
      grid: { color: gridColor, lineWidth: 1.5, drawTicks: false },
      afterBuildTicks: fixedTicks(usdtTicks),
      afterFit: fixedWidth(148),
      // the 4,000 line has its label covered by the USDT box in the original
      ticks: { color: '#b2b5be', font: tickFont, padding: 18, callback: v => v === 4000 ? '' : v.toLocaleString('en-US', { minimumFractionDigits: 2 }) }
    },
    y: {
      position: 'right', min: 15.4, max: 95.2,
      border: { display: false },
      grid: { display: false },
      afterBuildTicks: fixedTicks(rsiTicks),
      afterFit: fixedWidth(94),
      ticks: { color: '#b2b5be', font: tickFont, padding: 18, callback: v => v.toFixed(2) }
    }
  }, {})
});
</script>
</body>
</html>
